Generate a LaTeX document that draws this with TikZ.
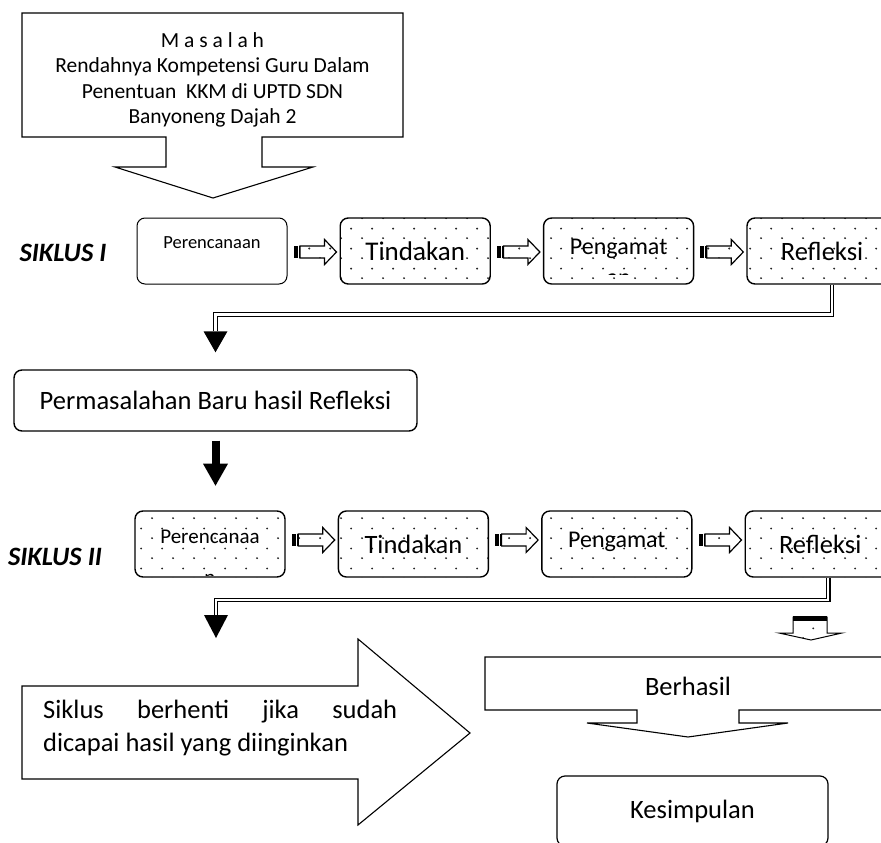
\documentclass[tikz,border=0pt]{standalone}
\usepackage{fontspec}
\setmainfont{Carlito}
\usetikzlibrary{positioning,calc,patterns.meta}

\tikzdeclarepattern{
  name=sparsedots,
  type=uncolored,
  bounding box={(0pt,0pt) and (21pt,20pt)},
  tile size={(21pt,20pt)},
  code={
    \fill (5.25pt,5pt) circle (1.1pt);
    \fill (15.75pt,15pt) circle (1.1pt);
  }
}

\begin{document}
\begin{tikzpicture}[
x=1pt,y=-1pt,
stepbox/.style={
  draw,
  rounded corners=8pt,
  line width=1.4pt,
  minimum width=150pt,
  minimum height=66pt,
  inner sep=0pt
},
dotbox/.style={
  stepbox,
  pattern=sparsedots,
  pattern color=black!85
},
callout/.style={
  draw,
  line width=1.1pt,
  line join=miter
},
dbl/.style={
  double,
  double distance=2.4pt,
  line width=1.2pt
},
big/.style={font=\fontsize{26.5}{31}\selectfont},
stripe arrow/.pic={
  \fill (-21.5,-6) rectangle (-17.5,6);
  \fill (-16.5,-6) rectangle (-15,6);
  \draw[line width=1.2pt, pattern=sparsedots, pattern color=black!85]
    (-15,-6) -- (9.5,-6) -- (9.5,-12.5) -- (21.5,0) -- (9.5,12.5) -- (9.5,6) -- (-15,6) -- cycle;
},
node distance=52pt
]
\useasboundingbox (0,0) rectangle (881,843);
\clip (0,0) rectangle (881,843);

% masalah
\draw[callout] (22,13) -- (403,13) -- (403,137) -- (262,137) -- (262,167) -- (313,167)
  -- (213,198) -- (115,167) -- (166,167) -- (166,137) -- (22,137) -- cycle;
\node[font=\fontsize{21.5}{25.5}\selectfont, align=center] (msl) at (212.5,80)
  {M a s a l a h\\Rendahnya Kompetensi Guru Dalam\\Penentuan\ \ KKM di UPTD SDN\\Banyoneng Dajah 2};

% siklus I
\node[font=\fontsize{26.5}{30}\selectfont\bfseries\itshape] (sk1) at (63,253) {SIKLUS I};
\node[stepbox, line width=1pt] (per1) at (212,251) {};
\node[font=\fontsize{18.5}{22}\selectfont] (per1t) at ($(per1)+(0,-8)$) {Perencanaan};
\node[dotbox, right=of per1, font=\fontsize{27}{31}\selectfont] (tin1) {Tindakan};
\node[dotbox, right=of tin1] (pen1) {};
\node[dotbox, right=of pen1, big] (ref1) {Refleksi};
\begin{scope}
\clip ($(pen1.north west)+(3,3)$) rectangle ($(pen1.south east)+(-3,-10)$);
\node[font=\fontsize{24}{27}\selectfont, align=center, anchor=north, inner sep=0pt] (pen1t)
  at ($(pen1.north)+(0,21.5)$) {Pengamat\\[4pt]an};
\end{scope}
\foreach \a/\b in {per1/tin1, tin1/pen1, pen1/ref1}
  \pic at ($(\a.east)!0.5!(\b.west)+(1.5,1)$) {stripe arrow};

% kembali ke permasalahan baru
\node[stepbox, minimum width=403pt, minimum height=61pt, big] (pm) at (215.5,400.5)
  {Permasalahan Baru hasil Refleksi};
\draw[dbl] ($(ref1.south)+(10,0)$) |- ($(pm.north)+(0,-55)$) -- ($(pm.north)+(0,-38)$) coordinate (h1);
\fill (h1) ++(-12,0) -- ++(24,0) -- ($(h1)+(0,21)$) -- cycle;
\draw[line width=8pt] ($(pm.south)+(0,9)$) -- ($(pm.south)+(0,32)$) coordinate (h2);
\fill (h2) ++(-12.5,0) -- ++(25,0) -- ($(h2)+(0,22)$) -- cycle;

% siklus II
\node[font=\fontsize{26.5}{30}\selectfont\bfseries\itshape] (sk2) at (55,557) {SIKLUS II};
\node[dotbox] (per2) at (210,544) {};
\node[dotbox, right=of per2, big] (tin2) {Tindakan};
\node[dotbox, right=of tin2] (pen2) {};
\node[dotbox, right=of pen2, big] (ref2) {Refleksi};
\begin{scope}
\clip ($(per2.north west)+(3,3)$) rectangle ($(per2.south east)+(-3,-2)$);
\node[font=\fontsize{21}{25}\selectfont, align=center, anchor=north, inner sep=0pt] (per2t)
  at ($(per2.north)+(0,19.5)$) {Perencanaa\\[16pt]n};
\end{scope}
\begin{scope}
\clip ($(pen2.north west)+(3,3)$) rectangle ($(pen2.south east)+(-3,-12)$);
\node[font=\fontsize{24}{27}\selectfont, align=center, anchor=north, inner sep=0pt] (pen2t)
  at ($(pen2.north)+(0,21.5)$) {Pengamat\\[4pt]an};
\end{scope}
\foreach \a/\b in {per2/tin2, tin2/pen2, pen2/ref2}
  \pic at ($(\a.east)!0.5!(\b.west)+(1.5,-4)$) {stripe arrow};

\coordinate (c2) at (216,600);
\draw[dbl] ($(ref2.south)+(8,0)$) |- (c2) -- ++(0,15) coordinate (h3);
\fill (h3) ++(-12,0) -- ++(24,0) -- ($(h3)+(0,23)$) -- cycle;

% siklus berhenti
\draw[callout] (22,686) -- (358,686) -- (358,639) -- (470,733) -- (358,825)
  -- (358,779) -- (22,779) -- cycle;
\node[big, anchor=base west, inner sep=0pt] (sb1) at (43,718)
  {\hbox to 354pt{Siklus\hfill berhenti\hfill jika\hfill sudah}};
\node[big, anchor=base west, inner sep=0pt] (sb2) at (43,751) {dicapai hasil yang diinginkan};

% berhasil
\draw[line width=1pt, pattern=sparsedots, pattern color=black!85]
  (793,617) -- (827,617) -- (827,633) -- (842,633) -- (811,640) -- (779,633) -- (793,633) -- cycle;
\fill (793,616) rectangle (827,621);
\draw[callout] (485,657) -- (891,657) -- (891,710) -- (739,710) -- (739,723) -- (788,723)
  -- (688,737) -- (587,723) -- (637,723) -- (637,710) -- (485,710) -- cycle;
\node[big] (bh) at (688,686) {Berhasil};

% kesimpulan
\node[stepbox, minimum width=271pt, minimum height=70pt, line width=1.2pt, big] (ks)
  at (692.5,811) {Kesimpulan};
\end{tikzpicture}
\end{document}
